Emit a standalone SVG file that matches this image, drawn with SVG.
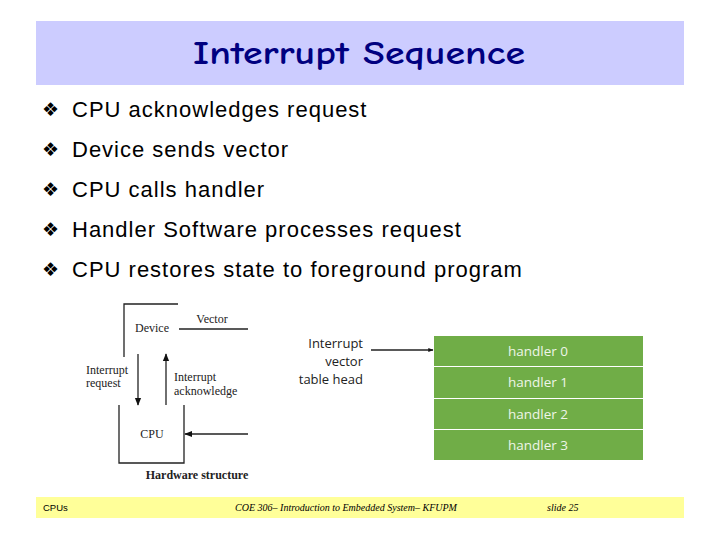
<svg xmlns="http://www.w3.org/2000/svg" width="720" height="540" viewBox="0 0 720 540">
<style>
.bul{font-family:"DejaVu Sans",sans-serif;font-size:19px;fill:#000}
.txt{font-family:"Liberation Sans",Arial,sans-serif;font-size:22px;letter-spacing:1px;fill:#000}
.ser{font-family:"Liberation Serif","Times New Roman",serif;font-size:12px;fill:#222}
.cal{font-family:"Open Sans","Noto Sans",sans-serif;font-size:13px}
.ln{stroke:#222;stroke-width:1.3;fill:none}
.hbox{fill:#70ad47}
.htxt{font-family:"Open Sans","Noto Sans",sans-serif;font-size:13.5px;fill:#eef5e8;text-anchor:middle}
</style>
<defs>
<marker id="ah" viewBox="0 0 10 10" refX="9" refY="5" markerWidth="6" markerHeight="6" orient="auto">
<path d="M0,1 L10,5 L0,9 z" fill="#111"/>
</marker>
<marker id="ahs" viewBox="0 0 10 10" refX="9" refY="5" markerWidth="4" markerHeight="4" orient="auto">
<path d="M0,1 L10,5 L0,9 z" fill="#111"/>
</marker>
</defs>
<rect width="720" height="540" fill="#fff"/>
<g id="title">
<rect x="36" y="21" width="648" height="64" fill="#ccccff"/>
<text x="359" y="64" text-anchor="middle" font-family="'Comic Sans MS','Comic Neue','Open Sans',sans-serif" font-weight="bold" font-size="32" fill="#000080" textLength="332" lengthAdjust="spacingAndGlyphs">Interrupt Sequence</text>
</g>
<g id="bullets">
<text class="bul" x="42" y="116">❖</text><text class="txt" x="72" y="117">CPU acknowledges request</text>
<text class="bul" x="42" y="156">❖</text><text class="txt" x="72" y="157">Device sends vector</text>
<text class="bul" x="42" y="196">❖</text><text class="txt" x="72" y="197">CPU calls handler</text>
<text class="bul" x="42" y="236">❖</text><text class="txt" x="72" y="237">Handler Software processes request</text>
<text class="bul" x="42" y="276">❖</text><text class="txt" x="72" y="277">CPU restores state to foreground program</text>
</g>
<g id="device">
<path class="ln" d="M124,357 V304 H178"/>
<text class="ser" x="152" y="332" text-anchor="middle" font-size="13">Device</text>
<text class="ser" x="212" y="323" text-anchor="middle" font-size="13">Vector</text>
</g>
<g id="cpu">
<path class="ln" d="M119,405 V463 H184 V405"/>
<text class="ser" x="152" y="438" text-anchor="middle" font-size="13">CPU</text>
<text class="ser" x="197" y="479" text-anchor="middle" font-weight="bold" font-size="13">Hardware structure</text>
</g>
<g id="labels">
<text class="ser" x="86" y="374">Interrupt</text>
<text class="ser" x="86" y="387">request</text>
<text class="ser" x="174" y="381">Interrupt</text>
<text class="ser" x="174" y="395">acknowledge</text>
</g>
<g id="vtable-label">
<text class="cal" x="363" y="348" text-anchor="end" fill="#222">Interrupt</text>
<text class="cal" x="363" y="366" text-anchor="end" fill="#222">vector</text>
<text class="cal" x="363" y="384" text-anchor="end" fill="#222">table head</text>
</g>
<g id="handler0"><rect class="hbox" x="434" y="336" width="209" height="30"/><text class="htxt" x="538" y="356">handler 0</text></g>
<g id="handler1"><rect class="hbox" x="434" y="367" width="209" height="31"/><text class="htxt" x="538" y="387">handler 1</text></g>
<g id="handler2"><rect class="hbox" x="434" y="399" width="209" height="30"/><text class="htxt" x="538" y="419">handler 2</text></g>
<g id="handler3"><rect class="hbox" x="434" y="430" width="209" height="30"/><text class="htxt" x="538" y="450">handler 3</text></g>
<g id="connectors">
<line class="ln" x1="179" y1="329" x2="248" y2="329"/>
<line class="ln" x1="138" y1="354" x2="138" y2="405" marker-end="url(#ah)"/>
<line class="ln" x1="166" y1="405" x2="166" y2="354" marker-end="url(#ah)"/>
<line class="ln" x1="248" y1="434" x2="185" y2="434" marker-end="url(#ah)"/>
<line class="ln" x1="371" y1="350" x2="433" y2="350" stroke-width="1" marker-end="url(#ahs)"/>
</g>
<g id="footer">
<rect x="36" y="497" width="648" height="21" fill="#ffff99"/>
<text x="43" y="511" font-family="'Liberation Sans',sans-serif" font-size="9.5" fill="#000">CPUs</text>
<text x="346" y="511" text-anchor="middle" font-family="'Liberation Serif',serif" font-style="italic" font-size="10" fill="#000">COE 306– Introduction to Embedded System– KFUPM</text>
<text x="547" y="511" font-family="'Liberation Serif',serif" font-style="italic" font-size="10" fill="#000">slide 25</text>
</g>
</svg>
